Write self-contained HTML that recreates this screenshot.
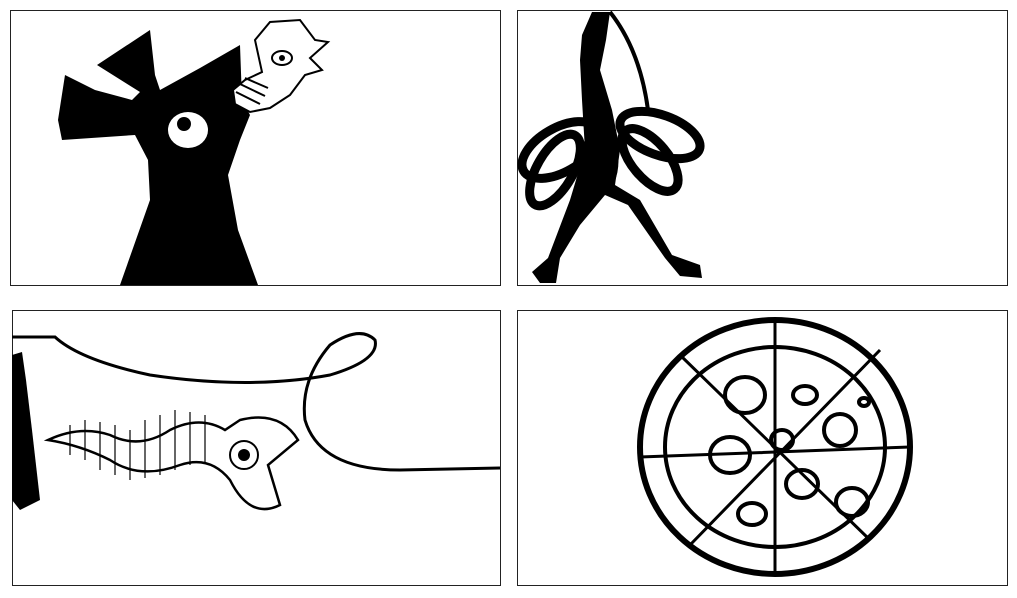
<!DOCTYPE html>
<html><head><meta charset="utf-8"><style>
html,body{margin:0;padding:0;background:#fff;width:1017px;height:598px;overflow:hidden}
</style></head><body>
<svg width="1017" height="598" viewBox="0 0 1017 598" xmlns="http://www.w3.org/2000/svg">
<rect width="1017" height="598" fill="#fff"/>
<g>
<rect x="10.5" y="10.5" width="490" height="275" fill="#fff" stroke="#222" stroke-width="1"/>
<path d="M120,285 L150,200 L148,160 L135,135 L62,140 L58,120 L65,75 L95,90 L132,100 L140,92 L97,65 L150,30 L155,75 L160,90 L200,68 L240,45 L242,100 L250,115 L240,140 L228,175 L238,230 L258,285 Z" fill="#000"/>
<ellipse cx="188" cy="130" rx="20" ry="18" fill="#fff"/>
<circle cx="184" cy="124" r="7" fill="#000"/>
<path d="M233,90 L245,80 L262,72 L255,40 L270,22 L300,20 L315,40 L328,42 L310,58 L322,70 L305,75 L290,95 L270,108 L250,112 L235,104 Z" fill="#fff" stroke="#000" stroke-width="2"/>
<path d="M236,92 L260,104 M240,84 L265,96 M245,78 L268,88" stroke="#000" stroke-width="2" fill="none"/>
<ellipse cx="282" cy="58" rx="10" ry="7" fill="none" stroke="#000" stroke-width="2"/>
<circle cx="282" cy="58" r="3" fill="#000"/>
</g>
<g>
<rect x="517.5" y="10.5" width="490" height="275" fill="#fff" stroke="#222" stroke-width="1"/>
<g fill="none" stroke="#000" stroke-width="9">
<ellipse cx="560" cy="150" rx="42" ry="22" transform="rotate(-30 560 150)"/>
<ellipse cx="555" cy="170" rx="40" ry="18" transform="rotate(-60 555 170)"/>
<ellipse cx="660" cy="135" rx="42" ry="20" transform="rotate(20 660 135)"/>
<ellipse cx="650" cy="160" rx="38" ry="18" transform="rotate(50 650 160)"/>
<ellipse cx="600" cy="160" rx="14" ry="30"/>
</g>
<path d="M592,12 L610,12 L606,40 L600,70 L612,110 L620,150 L615,185 L640,200 L672,255 L700,265 L702,278 L680,276 L665,258 L628,205 L605,195 L580,225 L560,258 L556,283 L540,283 L532,272 L548,258 L570,200 L585,150 L582,100 L580,60 L582,35 Z" fill="#000"/>
<path d="M610,12 Q640,50 648,110" stroke="#000" stroke-width="4" fill="none"/>
</g>
<g>
<rect x="12.5" y="310.5" width="488" height="275" fill="#fff" stroke="#222" stroke-width="1"/>
<path d="M12,337 L55,337 Q80,360 150,375 Q250,390 330,375 Q380,360 375,340 Q360,325 330,345 Q300,380 305,420 Q320,470 400,470 L500,468" stroke="#000" stroke-width="3" fill="none"/>
<path d="M12,355 L22,352 L26,380 L32,430 L40,500 L20,510 L12,500 Z" fill="#000"/>
<path d="M48,440 Q80,425 110,435 Q140,450 170,430 Q200,415 225,430 L240,420 Q280,410 298,440 L268,465 L280,505 Q250,520 230,480 Q210,455 180,465 Q140,480 110,460 Q80,445 48,440 Z" fill="#fff" stroke="#000" stroke-width="2.5"/>
<path d="M70,425 L70,455 M85,420 L85,460 M100,422 L100,470 M115,425 L115,475 M130,430 L130,480 M145,420 L145,478 M160,415 L160,475 M175,410 L175,470 M190,412 L190,465 M205,415 L205,462" stroke="#000" stroke-width="1.2"/>
<circle cx="244" cy="455" r="14" fill="#fff" stroke="#000" stroke-width="2"/>
<circle cx="244" cy="455" r="6" fill="#000"/>
</g>
<g>
<rect x="517.5" y="310.5" width="490" height="275" fill="#fff" stroke="#222" stroke-width="1"/>
<ellipse cx="775" cy="447" rx="135" ry="127" fill="#fff" stroke="#000" stroke-width="6"/>
<ellipse cx="775" cy="447" rx="110" ry="100" fill="none" stroke="#000" stroke-width="4"/>
<path d="M775,320 L775,574 M640,457 L910,447 M680,355 L870,540 M880,350 L690,545" stroke="#000" stroke-width="3"/>
<g fill="none" stroke="#000" stroke-width="4">
<ellipse cx="745" cy="395" rx="20" ry="18"/><ellipse cx="805" cy="395" rx="12" ry="9"/>
<ellipse cx="840" cy="430" rx="16" ry="16"/><ellipse cx="730" cy="455" rx="20" ry="18"/>
<ellipse cx="782" cy="440" rx="11" ry="10"/><ellipse cx="802" cy="484" rx="16" ry="14"/>
<ellipse cx="852" cy="502" rx="16" ry="14"/><ellipse cx="752" cy="514" rx="14" ry="11"/>
<ellipse cx="864" cy="402" rx="5" ry="4"/>
</g>
</g>
</svg>
</body></html>
